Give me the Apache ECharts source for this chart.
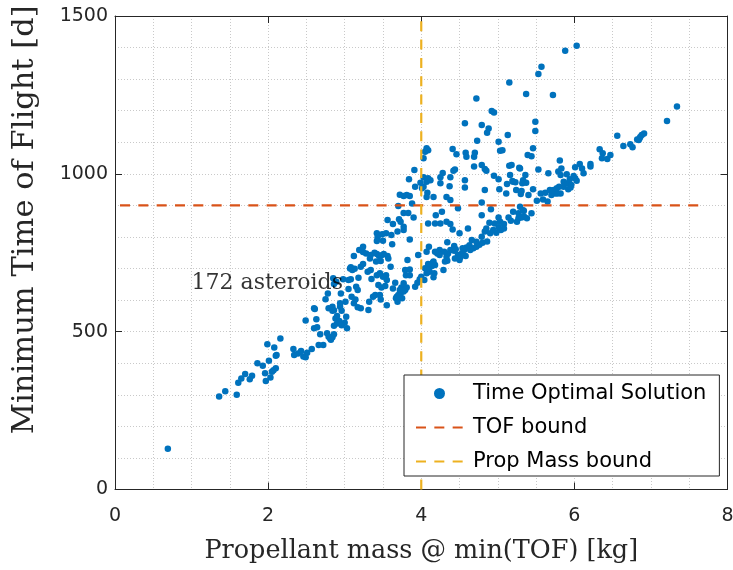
<!DOCTYPE html>
<html>
<head>
<meta charset="utf-8">
<script src="https://cdn.jsdelivr.net/npm/echarts@6/dist/echarts.min.js"></script>
<style>
  html, body { margin: 0; padding: 0; background: #fff; }
  #chart { width: 733px; height: 570px; }
</style>
</head>
<body>
<div id="chart"></div>
<script>
// Propellant mass [kg] of each time optimal solution
var propMass = [
  0.69, 1.36, 1.44, 1.59, 1.61, 1.65, 1.70, 1.76, 1.79, 1.86, 1.93,
  1.96, 1.97, 1.99, 2.01, 2.03, 2.05, 2.07, 2.10, 2.08, 2.10, 2.11,
  2.16, 2.33, 2.34, 2.39, 2.43, 2.46, 2.49, 2.51, 2.49, 2.57, 2.61,
  2.63, 2.60, 2.64, 2.68, 2.66, 2.72, 2.75, 2.78, 2.79, 2.84, 2.84,
  2.86, 2.77, 2.79, 2.81, 2.82, 2.84, 2.86, 2.85, 2.86, 2.89, 2.88,
  2.90, 2.90, 2.93, 2.94, 2.96, 2.98, 3.01, 3.02, 3.00, 3.03, 3.07,

  3.72, 3.77, 3.70, 3.56, 3.63, 3.71, 3.73, 3.69, 3.77, 3.42, 3.43,
  3.49, 3.54, 3.42, 3.50, 3.62, 3.19, 3.24, 3.28, 3.33, 3.39, 3.42,
  3.45, 3.48, 3.51, 3.56, 3.57, 3.34, 3.41, 3.12, 3.21, 3.24, 3.60,
  3.47, 3.08, 3.10, 3.13, 3.18, 3.08, 3.05, 3.30, 3.34, 3.35, 3.42,
  3.46, 3.50, 3.54, 3.44, 3.48, 3.53, 3.66, 3.55, 3.63, 3.68, 3.70,
  3.73, 3.75, 3.77, 3.74, 3.15, 3.17, 3.09, 3.14, 3.12, 3.17, 3.21,
  3.32, 3.37, 3.40, 3.46, 3.47, 3.55, 3.31, 3.05, 2.95, 2.94, 2.60,
  2.86, 2.96,

  3.82, 3.85, 3.85, 3.80, 3.77, 3.79, 3.67, 3.69, 3.72, 3.81, 3.92,
  3.95, 3.98, 3.96, 4.00, 4.07, 4.10, 4.04, 4.07, 4.05, 4.11, 4.15,
  4.11, 4.17, 4.18, 4.21, 4.24, 4.24, 4.29, 4.33, 4.35, 4.31, 4.38,
  4.43, 4.45, 4.48, 4.50, 4.53, 4.56, 4.59, 4.64, 4.68, 4.72, 4.76,
  4.80, 4.86, 4.44, 4.34, 4.58,

  3.92, 4.03, 4.25, 4.37, 4.57, 4.83, 5.12, 5.20, 3.81, 3.85, 4.16,
  4.33, 4.38, 4.79, 5.11, 5.24, 5.30, 3.77, 3.83, 3.90, 4.19, 4.27,
  4.25, 4.33, 4.38, 3.77, 4.18, 4.09, 4.48, 4.61, 4.50, 4.41, 4.79,
  4.91, 5.01, 5.03, 5.08, 5.14, 5.20, 5.27, 5.34, 5.17, 5.25, 3.85,
  4.34, 4.18, 4.30, 4.43, 4.54, 4.63, 4.66, 4.72, 4.79, 4.83, 4.85,
  4.90, 4.94, 4.98, 5.01, 5.04, 5.08, 4.51, 4.16, 4.14, 4.09, 4.08,
  4.16, 3.79, 3.72, 4.89, 4.96, 5.27, 5.34,

  5.46, 5.39, 5.44, 5.29, 5.36, 5.33, 5.37, 5.32, 5.53, 5.66, 5.46,
  5.56, 5.62, 5.59, 5.65, 5.68, 5.70, 5.75, 5.73, 5.77, 5.80, 5.78,
  5.51, 5.40, 5.31, 5.29, 5.33, 5.31, 5.44, 5.38, 5.79, 5.82, 5.90,
  5.86, 5.91, 5.86, 5.94, 5.96, 5.92, 5.99, 6.01, 6.03, 6.01, 6.07,
  6.10, 6.12, 6.21, 6.21, 6.33, 6.37, 6.36, 6.43, 6.47, 6.64, 6.73,
  6.76, 6.84, 5.81, 5.83, 5.82,

  5.88, 6.03, 7.34, 7.21, 6.56, 6.82, 6.86, 6.88, 6.91, 6.85, 5.95,

  5.53, 5.57, 5.15, 5.37, 5.72, 4.72, 4.92, 4.95, 4.57, 4.79, 4.86,
  4.88, 5.49, 5.49, 5.13, 4.73, 5.01, 5.03, 5.06, 4.41, 4.46, 4.58,
  4.70, 4.59, 4.69, 4.07, 4.09, 4.05, 4.03, 4.79, 4.69, 4.83, 4.85,
  4.44, 4.42, 4.95, 5.01, 5.15, 5.18, 5.28, 5.16, 5.19, 5.23, 3.91,
  3.84, 3.99, 4.03, 4.07, 4.08, 4.07, 4.12, 3.88, 3.61, 3.24, 4.28,
  4.25, 4.38, 4.09, 4.01, 4.57, 5.02
];

// Minimum time of flight [d], same order as propMass
var minTof = [
  129, 295, 311, 300, 338, 352, 366, 349, 360, 400, 392,
  368, 344, 460, 408, 355, 373, 378, 384, 450, 424, 426,
  478, 445, 426, 431, 439, 421, 419, 433, 535, 445, 572,
  539, 511, 514, 492, 458, 458, 603, 621, 574, 579, 566,
  568, 495, 484, 478, 474, 482, 492, 669, 651, 658, 542,
  550, 526, 534, 590, 566, 666, 595, 547, 528, 511, 700,

  934, 930, 898, 854, 841, 856, 848, 817, 822, 812, 799,
  809, 812, 787, 788, 777, 759, 752, 748, 732, 750, 746,
  740, 742, 746, 740, 732, 743, 722, 740, 706, 714, 706,
  724, 704, 695, 699, 671, 666, 664, 690, 695, 667, 679,
  685, 674, 679, 648, 640, 645, 655, 664, 637, 611, 616,
  621, 606, 627, 640, 642, 632, 611, 602, 590, 577, 574,
  595, 611, 616, 616, 602, 584, 569, 635, 621, 579, 574,
  519, 520,

  727, 697, 679, 679, 653, 632, 606, 595, 611, 640, 642,
  655, 666, 743, 674, 753, 769, 664, 685, 701, 706, 718,
  690, 685, 711, 748, 759, 743, 695, 737, 748, 722, 759,
  771, 761, 743, 727, 748, 759, 767, 759, 764, 769, 775,
  782, 786, 732, 725, 740,

  959, 959, 970, 961, 957, 949, 968, 975, 933, 930, 927,
  927, 917, 909, 938, 949, 936, 876, 876, 862, 869, 880,
  843, 848, 841, 832, 843, 843, 891, 827, 812, 824, 869,
  888, 862, 848, 841, 862, 880, 875, 883, 851, 848, 792,
  783, 753, 753, 756, 764, 774, 790, 785, 801, 817, 827,
  812, 822, 813, 831, 822, 827, 736, 722, 708, 714, 697,
  672, 695, 632, 845, 843, 859, 866,

  1081, 1060, 1056, 1017, 996, 980, 972, 970, 1014, 1002, 951,
  938, 940, 919, 912, 949, 933, 938, 949, 954, 959, 938,
  915, 933, 946, 896, 885, 862, 875, 859, 1007, 996, 999,
  975, 970, 959, 983, 965, 951, 993, 986, 978, 1021, 1031,
  1017, 1002, 1031, 1023, 1078, 1065, 1049, 1047, 1060, 1088, 1094,
  1084, 1107, 1042, 1017, 938,

  1390, 1406, 1213, 1167, 1121, 1109, 1117, 1123, 1128, 1112, 957,

  1316, 1339, 1289, 1253, 1250, 1239, 1199, 1194, 1160, 1155, 1130,
  1144, 1165, 1136, 1123, 1105, 1102, 1073, 1075, 1079, 1062, 1067,
  1067, 1054, 1054, 1081, 1075, 1070, 1049, 1028, 1023, 1015, 1010,
  1014, 1010, 994, 983, 1026, 1028, 1019, 996, 977, 973, 1012,
  983, 972, 989, 975, 940, 927, 980, 906, 806, 769, 1003,
  989, 989, 986, 954, 980, 951
];

// bounds
var tofBound = 900;
var tofBoundMass = [0, 7.7];
var massBound = 4;
var massBoundTof = [0, 1500];

// axis ranges / ticks
var xMin = 0, xMax = 8, xStep = 2;
var yMin = 0, yMax = 1500, yStep = 500;

var points = propMass.map(function (m, i) { return [m, minTof[i]]; });

var axisColor = '#262626';
var gridLine = { color: '#c9c9c9', width: 1, type: [1, 2] };
var plainNum = function (v) { return String(v); };

var myChart = echarts.init(document.getElementById('chart'));

var option = {
  animation: false,
  backgroundColor: '#fff',
  grid: {
    left: 115, right: 5.5, top: 16, bottom: 80.5,
    containLabel: false,
    outerBoundsMode: 'none'
  },
  legend: {
    data: [
      { name: 'Time Optimal Solution' },
      { name: 'TOF bound', itemStyle: { opacity: 0 } },
      { name: 'Prop Mass bound', itemStyle: { opacity: 0 } }
    ],
    orient: 'vertical',
    left: 404,
    top: 375,
    padding: [8, 13, 4, 6],
    itemWidth: 57,
    itemHeight: 11,
    itemGap: 13,
    backgroundColor: '#fff',
    borderColor: axisColor,
    borderWidth: 1,
    borderRadius: 0,
    textStyle: { fontFamily: 'DejaVu Sans', fontSize: 21, lineHeight: 20, color: '#000' }
  },
  xAxis: [
    {
      type: 'value',
      position: 'bottom',
      min: xMin, max: xMax, interval: xStep,
      name: 'Propellant mass @ min(TOF) [kg]',
      nameLocation: 'middle',
      nameGap: 49,
      nameTextStyle: { fontFamily: 'DejaVu Serif', fontSize: 25.5, color: axisColor },
      axisLine: { show: true, onZero: false, lineStyle: { color: axisColor, width: 1 } },
      axisTick: { show: true, inside: true, length: 7, lineStyle: { color: axisColor } },
      axisLabel: { fontFamily: 'DejaVu Sans', fontSize: 19, color: axisColor, margin: 17,
                   formatter: plainNum, showMinLabel: true, showMaxLabel: true },
      splitLine: { show: true, lineStyle: gridLine },
      minorTick: { show: false, splitNumber: 4 },
      minorSplitLine: { show: true, lineStyle: gridLine }
    },
    {
      type: 'value',
      position: 'top',
      min: xMin, max: xMax, interval: xStep,
      axisLine: { show: true, onZero: false, lineStyle: { color: axisColor, width: 1 } },
      axisTick: { show: true, inside: true, length: 7, lineStyle: { color: axisColor } },
      axisLabel: { show: false },
      splitLine: { show: false }
    }
  ],
  yAxis: [
    {
      type: 'value',
      position: 'left',
      min: yMin, max: yMax, interval: yStep,
      name: 'Minimum Time of Flight [d]',
      nameLocation: 'middle',
      nameGap: 74,
      nameTextStyle: { fontFamily: 'DejaVu Serif', fontSize: 30.5, color: axisColor,
                       padding: [0, 0, 0, 66] },
      axisLine: { show: true, onZero: false, lineStyle: { color: axisColor, width: 1 } },
      axisTick: { show: true, inside: true, length: 7, lineStyle: { color: axisColor } },
      axisLabel: { fontFamily: 'DejaVu Sans', fontSize: 19, color: axisColor, margin: 7,
                   formatter: plainNum, showMinLabel: true, showMaxLabel: true },
      splitLine: { show: true, lineStyle: gridLine },
      minorTick: { show: false, splitNumber: 5 },
      minorSplitLine: { show: true, lineStyle: gridLine }
    },
    {
      type: 'value',
      position: 'right',
      min: yMin, max: yMax, interval: yStep,
      axisLine: { show: true, onZero: false, lineStyle: { color: axisColor, width: 1 } },
      axisTick: { show: true, inside: true, length: 7, lineStyle: { color: axisColor } },
      axisLabel: { show: false },
      splitLine: { show: false }
    }
  ],
  series: [
    {
      name: 'Time Optimal Solution',
      type: 'scatter',
      data: points,
      symbol: 'circle',
      symbolSize: 6.5,
      itemStyle: { color: '#0072BD', opacity: 1 },
      z: 2
    },
    {
      name: 'TOF bound',
      type: 'line',
      data: tofBoundMass.map(function (m) { return [m, tofBound]; }),
      symbol: 'none',
      color: '#D95319',
      lineStyle: { color: '#D95319', width: 2.2, type: [10, 8.33], dashOffset: 13.33 },
      z: 3
    },
    {
      name: 'Prop Mass bound',
      type: 'line',
      data: massBoundTof.map(function (t) { return [massBound, t]; }),
      symbol: 'none',
      color: '#EDB120',
      lineStyle: { color: '#EDB120', width: 2.2, type: [10, 8.33] },
      z: 3
    },
    {
      // text annotation
      name: 'note',
      type: 'scatter',
      data: [[1.0, 654]],
      symbolSize: 0,
      silent: true,
      label: {
        show: true,
        position: 'right',
        distance: 0,
        formatter: '172 asteroids',
        fontFamily: 'DejaVu Serif',
        fontSize: 22,
        color: '#000'
      },
      z: 4
    }
  ]
};

myChart.setOption(option);
</script>
</body>
</html>
